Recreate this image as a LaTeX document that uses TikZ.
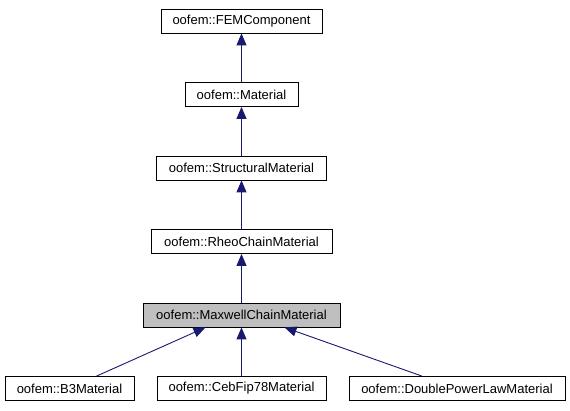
\documentclass[tikz,border=0pt]{standalone}
\usepackage{fontspec}
\setmainfont{Liberation Sans}
\usetikzlibrary{arrows.meta}
\definecolor{edgecol}{HTML}{191970}
\definecolor{graybox}{HTML}{BFBFBF}
\begin{document}
\begin{tikzpicture}[x=1pt,y=1pt,
  cls/.style={draw=black, line width=0.8pt, fill=white, minimum height=24pt, inner xsep=0pt, inner ysep=0pt, font=\fontsize{13}{15}\selectfont, anchor=center},
  edge/.style={draw=edgecol, line width=0.9pt, -{Triangle[width=10pt,length=12pt]}}]
\useasboundingbox (0,0) rectangle (570,-411);
\node[cls, minimum width=161pt] (fem) at (241.5,-21) {oofem::FEMComponent};
\node[cls, minimum width=113pt] (mat) at (241.5,-94.5) {oofem::Material};
\node[cls, minimum width=170pt] (sm) at (241.5,-168) {oofem::StructuralMaterial};
\node[cls, minimum width=181pt] (rcm) at (241.5,-241.5) {oofem::RheoChainMaterial};
\node[cls, minimum width=197pt, fill=graybox] (mcm) at (241.5,-315) {oofem::MaxwellChainMaterial};
\node[cls, minimum width=129pt] (b3) at (69.5,-388.5) {oofem::B3Material};
\node[cls, minimum width=169pt] (ceb) at (241.5,-388.5) {oofem::CebFip78Material};
\node[cls, minimum width=216pt] (dpl) at (457,-388.5) {oofem::DoublePowerLawMaterial};
\draw[edge] (mat) -- (fem);
\draw[edge] (sm) -- (mat);
\draw[edge] (rcm) -- (sm);
\draw[edge] (mcm) -- (rcm);
\draw[edge] (ceb) -- (mcm);
\draw[edge] ([xshift=27pt]b3.north) -- ([xshift=-36pt]mcm.south);
\draw[edge] ([xshift=-35pt]dpl.north) -- ([xshift=43pt]mcm.south);
\end{tikzpicture}
\end{document}
